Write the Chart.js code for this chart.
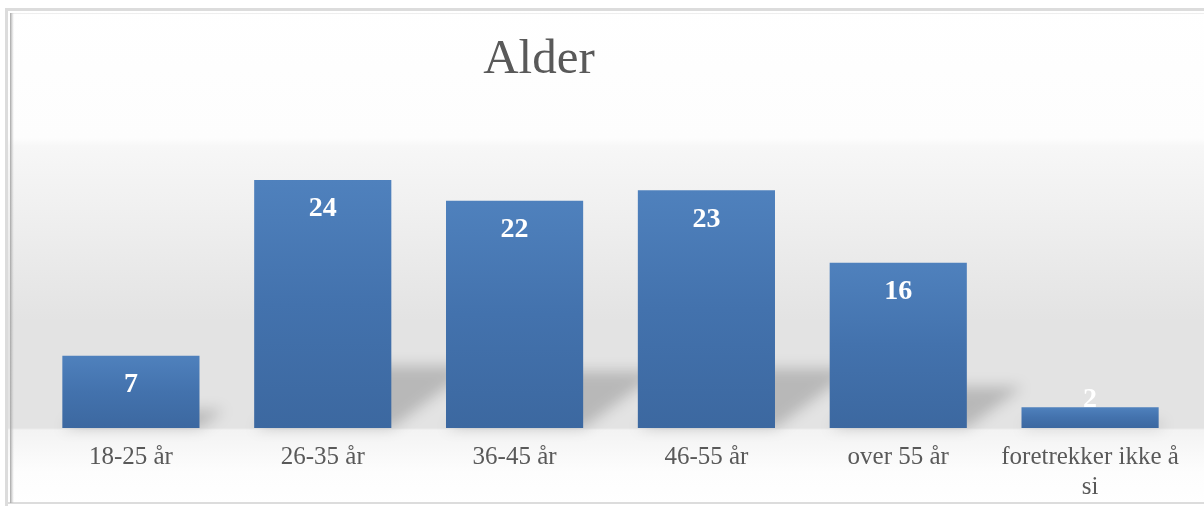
<!DOCTYPE html>
<html>
<head>
<meta charset="utf-8">
<script src="https://cdn.jsdelivr.net/npm/chart.js@4.4.1/dist/chart.umd.min.js"></script>
<style>
  html, body { margin: 0; padding: 0; background: #fff; }
  #wrap { position: relative; width: 1204px; height: 506px; }
</style>
</head>
<body>
<div id="wrap"><canvas id="alderChart"></canvas></div>
<script>
// Data
const chartTitle = 'Alder';
const categories = ['18-25 år', '26-35 år', '36-45 år', '46-55 år', 'over 55 år', ['foretrekker ikke å', 'si']];
const counts = [7, 24, 22, 23, 16, 2];
const yMax = 30;

const serif = "'Liberation Serif', 'DejaVu Serif', serif";

// Background, frame and title (Excel style)
const backdrop = {
    id: 'backdrop',
    beforeDraw(chart) {
        const { ctx, width, height } = chart;
        const g = ctx.createLinearGradient(0, 0, 0, height);
        g.addColorStop(0, '#ffffff');
        g.addColorStop(138 / height, '#fdfdfd');
        g.addColorStop(146 / height, '#f7f7f7');
        g.addColorStop(200 / height, '#f1f1f1');
        g.addColorStop(320 / height, '#e3e3e3');
        g.addColorStop(428 / height, '#e3e3e3');
        g.addColorStop(430 / height, '#f3f3f3');
        g.addColorStop(472 / height, '#fdfdfd');
        g.addColorStop(1, '#ffffff');
        ctx.save();
        ctx.fillStyle = '#ffffff';
        ctx.fillRect(0, 0, width, height);
        ctx.fillStyle = g;
        ctx.fillRect(8, 11, width - 8, height - 13);

        // frame
        ctx.fillStyle = '#dcdcdc';
        ctx.fillRect(5, 8, width - 5, 3);
        ctx.fillRect(5, 8, 3, height - 8);
        ctx.fillRect(5, 502, width - 5, 2);
        ctx.fillStyle = '#eeeeee';
        ctx.fillRect(11, 13, width - 11, 1);
        const s = ctx.createLinearGradient(10, 0, 14, 0);
        s.addColorStop(0, '#a4a4a4');
        s.addColorStop(1, 'rgba(200,200,200,0)');
        ctx.fillStyle = s;
        ctx.fillRect(10, 13, 4, height - 16);

        // title
        ctx.fillStyle = '#595959';
        ctx.font = '49px ' + serif;
        ctx.textAlign = 'center';
        ctx.textBaseline = 'alphabetic';
        ctx.fillText(chartTitle, 539, 73);
        ctx.restore();
    }
};

// Skewed cast shadow behind each bar
const barShadow = {
    id: 'barShadow',
    beforeDatasetsDraw(chart) {
        const { ctx } = chart;
        const meta = chart.getDatasetMeta(0);
        ctx.save();
        ctx.filter = 'blur(7px)';
        ctx.fillStyle = 'rgba(0,0,0,0.19)';
        meta.data.forEach(bar => {
            const h = bar.base - bar.y;
            const dy = h * 0.25;
            const dx = dy * 1.35;
            const l = bar.x - bar.width / 2, r = bar.x + bar.width / 2;
            ctx.beginPath();
            ctx.moveTo(l, bar.base);
            ctx.lineTo(r, bar.base);
            ctx.lineTo(r + dx, bar.base - dy);
            ctx.lineTo(l + dx, bar.base - dy);
            ctx.closePath();
            ctx.fill();
        });
        ctx.restore();
    }
};

// White value labels near the bar top
const valueLabels = {
    id: 'valueLabels',
    afterDatasetsDraw(chart) {
        const { ctx } = chart;
        const meta = chart.getDatasetMeta(0);
        ctx.save();
        ctx.fillStyle = '#ffffff';
        ctx.font = 'bold 28px ' + serif;
        ctx.textAlign = 'center';
        ctx.textBaseline = 'middle';
        meta.data.forEach((bar, i) => {
            const y = Math.min(bar.y + 29, bar.base - 28);
            ctx.fillText(String(counts[i]), bar.x, y);
        });
        ctx.restore();
    }
};

function barGradient(context) {
    const chart = context.chart;
    if (!chart.chartArea) return '#4a7ab5';
    const yScale = chart.scales.y;
    const top = yScale.getPixelForValue(counts[context.dataIndex]);
    const base = yScale.getPixelForValue(0);
    const g = chart.ctx.createLinearGradient(0, top, 0, base);
    g.addColorStop(0, '#4f81bd');
    g.addColorStop(0.5, '#4372ad');
    g.addColorStop(1, '#3c68a0');
    return g;
}

const ctx = document.getElementById('alderChart').getContext('2d');
new Chart(ctx, {
    type: 'bar',
    data: {
        labels: categories,
        datasets: [{
            label: chartTitle,
            data: counts,
            backgroundColor: barGradient,
            borderWidth: 0,
            categoryPercentage: 1,
            barPercentage: 0.715
        }]
    },
    options: {
        responsive: true,
        maintainAspectRatio: false,
        animation: false,
        layout: { padding: { top: 118, left: 35, right: 18, bottom: 0 } },
        plugins: {
            legend: { display: false },
            title: { display: false },
            tooltip: { enabled: false }
        },
        scales: {
            x: {
                grid: { display: false, drawTicks: false },
                border: { display: false },
                ticks: {
                    color: '#595959',
                    font: { family: serif, size: 25, lineHeight: 1.2 },
                    padding: 14,
                    maxRotation: 0,
                    autoSkip: false
                },
                afterFit(scale) { scale.height = 78; }
            },
            y: {
                display: false,
                min: 0,
                max: yMax
            }
        }
    },
    plugins: [backdrop, barShadow, valueLabels]
});
</script>
</body>
</html>
